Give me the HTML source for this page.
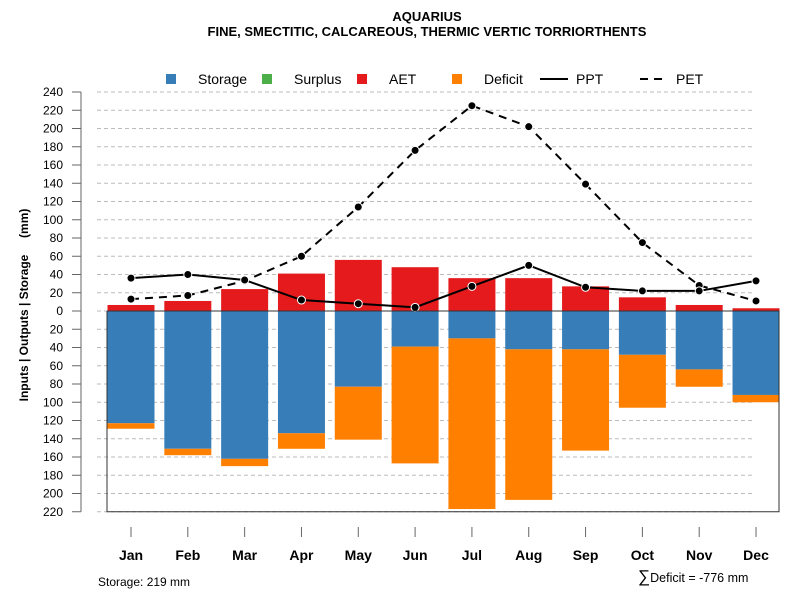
<!DOCTYPE html>
<html><head><meta charset="utf-8"><style>
body{margin:0;background:#fff;font-family:"Liberation Sans",sans-serif}
svg text{font-family:"Liberation Sans",sans-serif}
</style></head><body>
<svg id="c" width="800" height="600" xmlns="http://www.w3.org/2000/svg">
<text x="427" y="21" text-anchor="middle" font-size="13" font-weight="bold">AQUARIUS</text>
<text x="427" y="36" text-anchor="middle" font-size="13" font-weight="bold">FINE, SMECTITIC, CALCAREOUS, THERMIC VERTIC TORRIORTHENTS</text>
<g id="legend"></g>
<g id="grid"></g><g id="bars"></g><g id="lines"></g><g id="axes"></g>
<text transform="translate(28,305) rotate(-90)" text-anchor="middle" font-size="12" font-weight="bold" xml:space="preserve">Inputs | Outputs | Storage     (mm)</text>
<text x="98" y="586" font-size="12">Storage: 219 mm</text>
<text x="638" y="582" font-size="12.5"><tspan font-size="17">∑</tspan>Deficit = -776 mm</text>
</svg>
<script>
const months=["Jan","Feb","Mar","Apr","May","Jun","Jul","Aug","Sep","Oct","Nov","Dec"];
const aet=[6.6,11,24,41,56,48,36,36,27,15,6.6,3];
const storage=[123,151,162,134,83,39,30,42,42,48,64,92];
const deficit=[6,7,8,17,58,128,187,165,111,58,19,8];
const ppt=[36,40,34,12,8,4,27,50,26,22,22,33];
const pet=[13,17,33,60,114,176,225,202,139,75,28,11];
const yTicks=[240,220,200,180,160,140,120,100,80,60,40,20,0,20,40,60,80,100,120,140,160,180,200,220];
const NS="http://www.w3.org/2000/svg";
function mk(p,t,a){const e=document.createElementNS(NS,t);for(const k in a)e.setAttribute(k,a[k]);p.appendChild(e);return e;}
const y=v=>311-v*0.9125;
const x=i=>131+i*56.82;
const grid=document.getElementById('grid'),bars=document.getElementById('bars'),lines=document.getElementById('lines'),axes=document.getElementById('axes'),legend=document.getElementById('legend');
yTicks.forEach((t,i)=>{const v=i<=12?t:-t;const yy=y(v);
 const g=mk(grid,'line',{x1:97,x2:755,y1:yy,y2:yy,stroke:'#bbb','stroke-dasharray':'4,3'});
 
 
 mk(axes,'line',{x1:72,x2:81,y1:yy,y2:yy,stroke:'#666'});
 const tx=mk(axes,'text',{x:63,y:yy+4,'text-anchor':'end','font-size':12});tx.textContent=t;
 
 
});
mk(axes,'line',{x1:81,x2:81,y1:y(240),y2:y(-220),stroke:'#666'});
mk(axes,'polyline',{points:`107,${y(0)} 107,${y(-220)} 779,${y(-220)} 779,${y(0)} 107,${y(0)}`,fill:'none',stroke:'#333'});
months.forEach((m,i)=>{const cx=x(i),w=47;
 const a=mk(bars,'rect',{x:cx-w/2,y:y(aet[i]),width:w,height:aet[i]*0.9125,fill:'#e41a1c'});
 
 
 const s=mk(bars,'rect',{x:cx-w/2,y:y(0),width:w,height:storage[i]*0.9125,fill:'#377eb8'});
 
 
 const d=mk(bars,'rect',{x:cx-w/2,y:y(-storage[i]),width:w,height:deficit[i]*0.9125,fill:'#ff7f00'});
 
 
 mk(axes,'line',{x1:cx,x2:cx,y1:527,y2:537,stroke:'#666'});
 const t=mk(axes,'text',{x:cx,y:560,'text-anchor':'middle','font-size':14,'font-weight':'bold'});t.textContent=m;
 
 
});
mk(bars,'line',{x1:107,x2:779,y1:y(0),y2:y(0),stroke:'#333'});
[[pet,'8,6','pet'],[ppt,'','ppt']].forEach(([d,dash,n])=>{
 const l=mk(lines,'polyline',{points:d.map((v,i)=>x(i)+','+y(v)).join(' '),fill:'none',stroke:'#000','stroke-width':2,'stroke-dasharray':dash});
 
 
 d.forEach((v,i)=>{const c=mk(lines,'circle',{cx:x(i),cy:y(v),r:4,fill:'#000',stroke:'#fff','stroke-width':1});
  
  });
});
const leg=[['sq','#377eb8','Storage',166],['sq','#4daf4a','Surplus',262],['sq','#e41a1c','AET',357],['sq','#ff7f00','Deficit',452],['ln','','PPT',540],['ln','8,6','PET',640]];
leg.forEach(([k,c,t,lx])=>{
 if(k==='sq')mk(legend,'rect',{x:lx,y:74,width:10,height:10,fill:c});
 else mk(legend,'line',{x1:lx,x2:lx+28,y1:79,y2:79,stroke:'#000','stroke-width':2,'stroke-dasharray':c});
 const tx=mk(legend,'text',{x:k==='sq'?lx+32:lx+36,y:84,'font-size':14});tx.textContent=t;
 
 
});
</script>
</body></html>
